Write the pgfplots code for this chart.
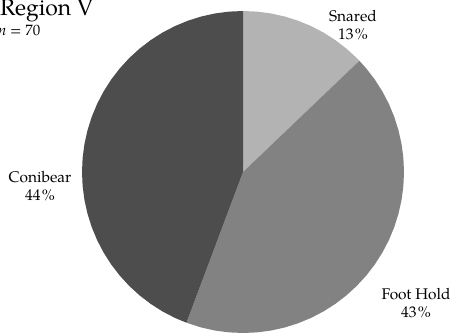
\documentclass[border=0pt]{standalone}
\usepackage{fontspec}
\setmainfont{texgyrepagella-regular.otf}[ItalicFont=texgyrepagella-italic.otf, BoldFont=texgyrepagella-bold.otf]
\usepackage{pgfplots}
\pgfplotsset{compat=1.18}
\usepgfplotslibrary{polar}
\definecolor{snared}{HTML}{B3B3B3}
\definecolor{foothold}{HTML}{828282}
\definecolor{conibear}{HTML}{4D4D4D}
\newcommand{\pc}{\kern1.2pt\%}
\begin{document}
\begin{tikzpicture}
\path[use as bounding box] (0,0) rectangle (456bp,333bp);
\begin{polaraxis}[at={(243bp,161bp)}, anchor=center, scale only axis,
  width=322bp, height=322bp, hide axis, ymin=0, ymax=1, clip=false]
% Snared 9/70
\addplot[fill=snared, draw=none] coordinates {(0,0) (90,1) (85,1) (80,1) (75,1) (70,1) (65,1) (60,1) (55,1) (50,1) (45,1) (43.71,1) (0,0)};
% Foot Hold 30/70
\addplot[fill=foothold, draw=none] coordinates {(0,0) (43.71,1) (40,1) (35,1) (30,1) (25,1) (20,1) (15,1) (10,1) (5,1) (0,1) (-5,1) (-10,1) (-15,1) (-20,1) (-25,1) (-30,1) (-35,1) (-40,1) (-45,1) (-50,1) (-55,1) (-60,1) (-65,1) (-70,1) (-75,1) (-80,1) (-85,1) (-90,1) (-95,1) (-100,1) (-105,1) (-110.57,1) (0,0)};
% Conibear 31/70
\addplot[fill=conibear, draw=none] coordinates {(0,0) (-110.57,1) (-115,1) (-120,1) (-125,1) (-130,1) (-135,1) (-140,1) (-145,1) (-150,1) (-155,1) (-160,1) (-165,1) (-170,1) (-175,1) (-180,1) (-185,1) (-190,1) (-195,1) (-200,1) (-205,1) (-210,1) (-215,1) (-220,1) (-225,1) (-230,1) (-235,1) (-240,1) (-245,1) (-250,1) (-255,1) (-260,1) (-265,1) (-270,1) (0,0)};
\end{polaraxis}
\node[anchor=base west, inner sep=0pt, font=\fontsize{23}{26}\selectfont] at (0bp,317bp) {Region V};
\node[anchor=base west, inner sep=0pt, font=\fontsize{15}{17}\selectfont] at (-2bp,297bp) {\textit{n} = 70};
\node[align=center, inner sep=0pt, font=\fontsize{15.5}{18.5}\selectfont] at (353bp,308bp) {Snared\\13\pc};
\node[align=center, inner sep=0pt, font=\fontsize{15.5}{18.5}\selectfont] at (416bp,30bp) {Foot Hold\\43\pc};
\node[align=center, inner sep=0pt, font=\fontsize{15.5}{18.5}\selectfont] at (40bp,147bp) {Conibear\\44\pc};
\end{tikzpicture}
\end{document}
